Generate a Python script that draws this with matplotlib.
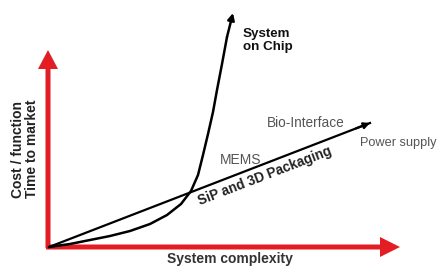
import matplotlib
matplotlib.use('Agg')
import matplotlib.pyplot as plt

plt.rcParams['font.family'] = ['Liberation Sans', 'DejaVu Sans']

# System on Chip curve (x = system complexity, y = cost / time to market)
soc_x = [0, 21, 41, 61, 81, 101, 118, 132, 142, 149, 154, 159, 164, 168, 173, 178, 184]
soc_y = [0, 3, 7, 11, 16, 23, 32, 43, 56, 72, 92, 113, 135, 157, 183, 210, 234]

# SiP and 3D packaging straight line
sip_x = [0, 321]
sip_y = [0, 124]

red = '#e31d24'

fig = plt.figure(figsize=(4.4, 2.66), dpi=100)
ax = fig.add_axes([0, 0, 1, 1])
ax.set_xlim(-49, 391)
ax.set_ylim(-19, 247)
ax.axis('off')

# red axes
ax.arrow(-1, -1, 0, 198, width=5, head_width=20, head_length=19,
         length_includes_head=True, color=red, lw=0)
ax.arrow(-3, 0, 354, 0, width=5, head_width=20, head_length=20,
         length_includes_head=True, color=red, lw=0)

# curves
ax.plot(soc_x[:-1], soc_y[:-1], color='black', lw=1.8,
        solid_capstyle='round', solid_joinstyle='round')
ax.annotate('', xy=(soc_x[-1], soc_y[-1]), xytext=(soc_x[-2], soc_y[-2]),
            arrowprops=dict(arrowstyle='-|>', color='black', lw=1.8,
                            mutation_scale=10, shrinkA=0, shrinkB=0))
ax.plot(sip_x, sip_y, color='black', lw=1.6)
ax.annotate('', xy=(sip_x[1], sip_y[1]), xytext=(sip_x[1] - 14, sip_y[1] - 5.4),
            arrowprops=dict(arrowstyle='-|>', color='black', lw=1.6,
                            mutation_scale=9, shrinkA=0, shrinkB=0))

# labels
ax.text(194, 219, 'System\non Chip', fontsize=9.6, fontweight='bold',
        ha='left', va='top', linespacing=1.1, color='#111111')
ax.text(218, 124, 'Bio-Interface', fontsize=9.8, ha='left', va='center', color='#555555')
ax.text(311, 104, 'Power supply', fontsize=9.2, ha='left', va='center', color='#555555')
ax.text(171, 87, 'MEMS', fontsize=10, ha='left', va='center', color='#555555')
ax.text(151, 42, 'SiP and 3D Packaging', fontsize=9.8, fontweight='bold',
        rotation=21, rotation_mode='anchor', ha='left', va='baseline', color='#222222')
ax.text(-24, 98, 'Cost / function\nTime to market', fontsize=10, fontweight='bold',
        rotation=90, ha='center', va='center', linespacing=1.05, color='#222222')
ax.text(181, -12.5, 'System complexity', fontsize=10, fontweight='bold',
        ha='center', va='center', color='#333333')

fig.savefig('out.png', dpi=100)
